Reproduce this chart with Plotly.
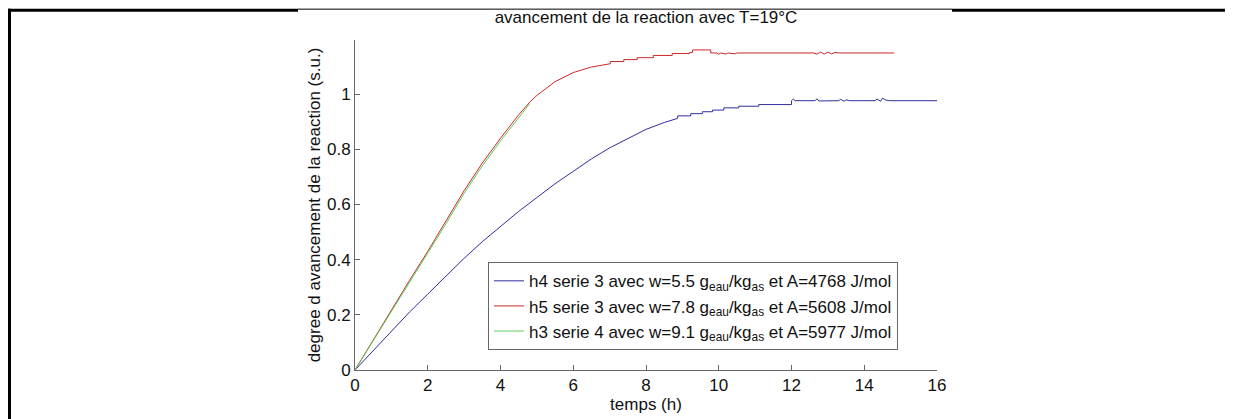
import plotly.graph_objects as go

# ---- data ----
t_h4 = [0, 0.5, 1, 1.5, 2, 2.5, 3, 3.5, 4, 4.5, 5, 5.5, 6, 6.5, 7, 7.5, 8, 8.5,
        8.87, 8.87, 9.23, 9.23, 9.55, 9.55, 9.83, 9.83, 10.14, 10.14, 10.55, 10.55, 11.1, 11.1, 12.0, 12.0,
        12.05, 12.1, 12.65, 12.7, 12.75, 13.3, 13.35, 13.45, 13.5, 13.6, 14.3, 14.35, 14.45, 14.5, 14.6, 14.7, 16.0]
v_h4 = [0, 0.07, 0.14, 0.21, 0.275, 0.34, 0.405, 0.465, 0.52, 0.575, 0.625, 0.675, 0.72, 0.765, 0.805, 0.84, 0.872, 0.897,
        0.912, 0.921, 0.921, 0.929, 0.929, 0.936, 0.936, 0.942, 0.942, 0.950, 0.950, 0.956, 0.956, 0.962, 0.962, 0.976,
        0.982, 0.976, 0.976, 0.983, 0.975, 0.976, 0.981, 0.974, 0.979, 0.976, 0.976, 0.982, 0.974, 0.985, 0.978, 0.976, 0.976]

t_h5 = [0, 0.5, 1, 1.5, 2, 2.5, 3, 3.5, 4, 4.5, 4.8, 5, 5.5, 6, 6.5, 7.02,
        7.02, 7.39, 7.39, 7.76, 7.76, 8.2, 8.2, 8.72, 8.72, 9.2, 9.2, 9.28, 9.28, 9.78, 9.78,
        9.95, 10.0, 10.05, 10.2, 10.25, 10.45, 10.5,
        12.6, 12.7, 12.8, 12.9, 13.0, 13.1, 13.2, 13.3, 14.82]
v_h5 = [0, 0.11, 0.22, 0.325, 0.43, 0.54, 0.65, 0.75, 0.84, 0.925, 0.97, 0.995, 1.045, 1.078, 1.098, 1.110,
        1.118, 1.118, 1.125, 1.125, 1.132, 1.132, 1.140, 1.140, 1.147, 1.147, 1.151, 1.151, 1.160, 1.160, 1.149,
        1.149, 1.144, 1.149, 1.145, 1.149, 1.146, 1.149,
        1.149, 1.145, 1.152, 1.145, 1.152, 1.146, 1.151, 1.149, 1.149]

t_h3 = [0, 0.5, 1, 1.5, 2, 2.5, 3, 3.5, 4, 4.5, 4.8]
v_h3 = [0, 0.105, 0.215, 0.32, 0.425, 0.53, 0.64, 0.74, 0.83, 0.915, 0.965]

names = [
    "h4 serie 3 avec w=5.5 g<sub>eau</sub>/kg<sub>as</sub> et A=4768 J/mol",
    "h5 serie 3 avec w=7.8 g<sub>eau</sub>/kg<sub>as</sub> et A=5608 J/mol",
    "h3 serie 4 avec w=9.1 g<sub>eau</sub>/kg<sub>as</sub> et A=5977 J/mol",
]
colors = ["#2e2e9e", "#cc2828", "#5ccc5c"]

x_ticks = [0, 2, 4, 6, 8, 10, 12, 14, 16]
y_ticks = [0, 0.2, 0.4, 0.6, 0.8, 1]
y_labels = ["0", "0.2", "0.4", "0.6", "0.8", "1"]

# the page places the figure 8px from the top-left corner of the window
OFF = 8
W, H = 1233 - OFF, 419 - OFF
L, T = 355 - OFF, 40 - OFF
R = W - (937 - OFF)
B = H - (377 - OFF)
pw = W - L - R
ph = H - T - B

def px(xp):
    # reference window pixel -> paper x
    return (xp - OFF - L) / pw

def py(yp):
    # reference window pixel -> paper y
    return (H - B - (yp - OFF)) / ph

fig = go.Figure()
for t, v, n, c in zip([t_h4, t_h5, t_h3], [v_h4, v_h5, v_h3], names, colors):
    fig.add_trace(go.Scatter(x=t, y=v, mode="lines", name=n,
                             line=dict(color=c, width=1)))

font = "Liberation Sans, Arial, sans-serif"
fig.update_layout(
    width=W, height=H,
    margin=dict(l=L, r=R, t=T, b=B),
    paper_bgcolor="white", plot_bgcolor="white",
    font=dict(family=font, color="#111", size=17),
    title=dict(text="avancement de la reaction avec T=19°C", x=0.5, xref="paper",
               xanchor="center", y=1 - (17 - OFF) / H, yanchor="middle",
               font=dict(size=17, family=font, color="#111")),
    xaxis=dict(range=[0, 16], tickvals=x_ticks, ticks="inside", ticklen=5,
               showline=True, linecolor="#666", linewidth=1, tickcolor="#666",
               showgrid=False, zeroline=False, mirror=False,
               title=dict(text="temps (h)", standoff=0, font=dict(size=17)),
               tickfont=dict(size=17)),
    yaxis=dict(range=[0, 1.196], tickvals=y_ticks, ticktext=y_labels,
               ticks="inside", ticklen=5,
               showline=True, linecolor="#666", linewidth=1, tickcolor="#666",
               showgrid=False, zeroline=False, mirror=False,
               title=dict(text="degree d avancement de la reaction (s.u.)", standoff=2, font=dict(size=17)),
               tickfont=dict(size=17)),
    legend=dict(x=px(488), y=py(267), xanchor="left", yanchor="top",
                bgcolor="white", bordercolor="#666", borderwidth=1,
                font=dict(size=17, family=font), itemwidth=30,
                tracegroupgap=0),
    showlegend=True,
)

# page frame lines (table border in the original image)
def line(x0, y0, x1, y1, lw):
    fig.add_shape(type="line", xref="paper", yref="paper",
                  x0=px(x0), x1=px(x1), y0=py(y0), y1=py(y1),
                  line=dict(color="black", width=lw), layer="above")

line(9.5, 8, 9.5, 430, 3)
line(8, 9.5, 298, 9.5, 3)
line(298, 8.5, 952, 8.5, 1)
line(952, 9.5, 1240, 9.5, 3)

fig.write_html("out.html")
